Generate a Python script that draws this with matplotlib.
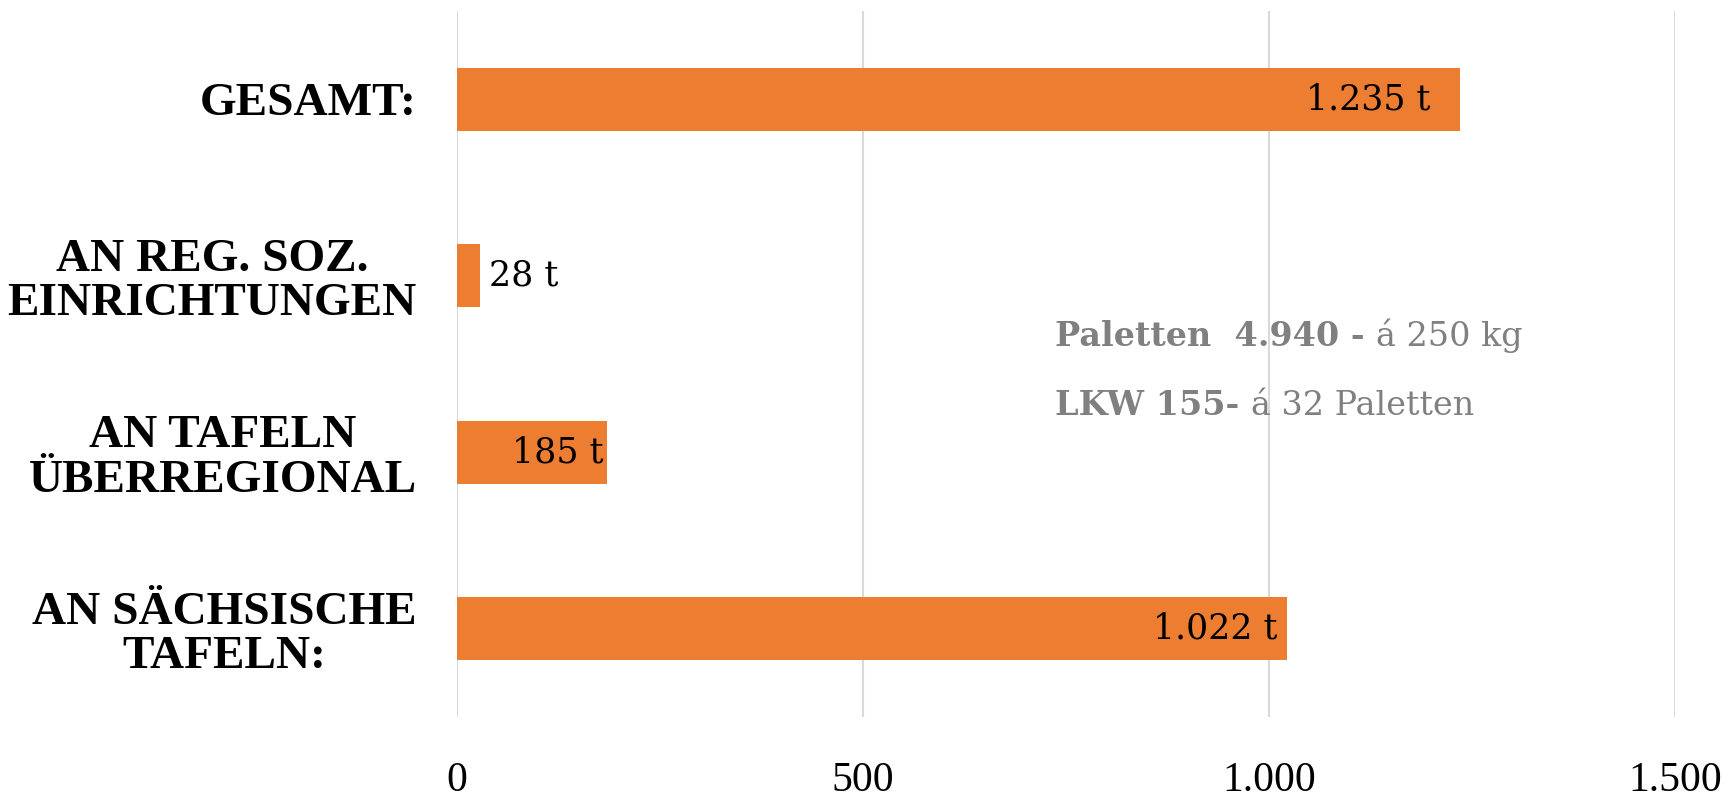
import matplotlib
matplotlib.use("Agg")
import matplotlib.pyplot as plt

# data, top to bottom as in the picture
categories = ["GESAMT:", "AN REG. SOZ.\nEINRICHTUNGEN", "AN TAFELN\nÜBERREGIONAL",
              "AN SÄCHSISCHE\nTAFELN:"]
values = [1235, 28, 185, 1022]
value_labels = ["1.235 t", "28 t", "185 t", "1.022 t"]
label_inside = [True, False, True, True]
xticks = [0, 500, 1000, 1500]
xtick_labels = ["0", "500", "1.000", "1.500"]
note_bold = ["Paletten  4.940 - ", "LKW 155- "]
note_rest = ["á 250 kg", "á 32 Paletten"]

ORANGE = "#ED7D31"
GRID = "#D9D9D9"
GREY = "#808080"
SERIF = ["Liberation Serif", "DejaVu Serif"]
SERIF2 = ["DejaVu Serif"]
label_pad = [21, 6.5, 3, 7]   # points between bar end and its label

fig = plt.figure(figsize=(17.3, 7.97), dpi=100)
ax = fig.add_axes([0.2642, 0.1004, 0.7040, 0.8858])

y = list(range(len(categories)))
ax.barh(y, values, height=0.357, color=ORANGE, zorder=2)
ax.set_ylim(len(categories) - 0.5, -0.5)
ax.set_xlim(0, 1500)

for yy, v, lab, inside, p in zip(y, values, value_labels, label_inside, label_pad):
    ax.annotate(lab, (v, yy), xytext=(-p if inside else p, 0), textcoords="offset points",
                ha="right" if inside else "left", va="center", fontsize=25,
                family=SERIF2, color="black")

ax.set_yticks(y)
ax.set_yticklabels(categories, fontsize=34, family=SERIF, weight="bold",
                   ha="right", multialignment="center", linespacing=1.08)
ax.tick_params(axis="y", length=0, pad=29)
ax.set_xticks(xticks)
ax.set_xticklabels(xtick_labels, fontsize=30, family=SERIF)
ax.tick_params(axis="x", length=0, pad=32)

ax.grid(axis="x", color=GRID, linewidth=1.5, zorder=0)
ax.set_axisbelow(True)
for s in ax.spines.values():
    s.set_visible(False)

# note text: bold lead-in followed by regular remainder
fig.canvas.draw()
r = fig.canvas.get_renderer()
x0 = 1055 / 1730
for b, rest, ybase in zip(note_bold, note_rest, [346, 415]):
    t = fig.text(x0, 1 - ybase / 797, b, fontsize=24, family=SERIF2, weight="bold",
                 color=GREY, ha="left", va="baseline")
    bb = t.get_window_extent(r)
    fig.text(bb.x1 / fig.bbox.width, 1 - ybase / 797, rest, fontsize=24, family=SERIF2,
             color=GREY, ha="left", va="baseline")

fig.savefig("out.png", dpi=100)
